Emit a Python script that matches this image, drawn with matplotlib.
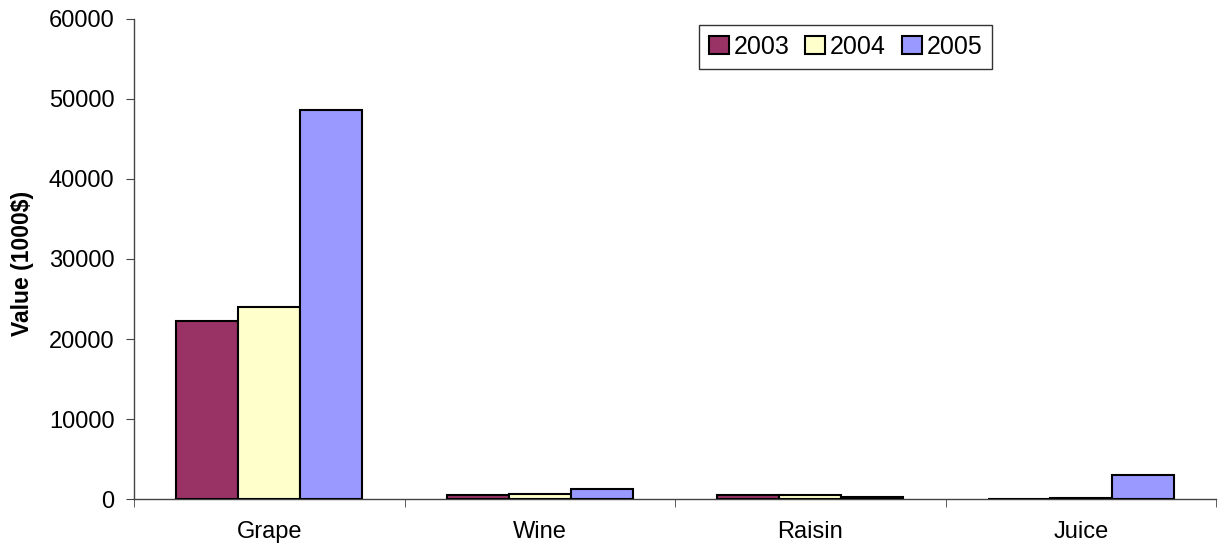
import matplotlib.pyplot as plt
import numpy as np

plt.rcParams['font.family'] = ['Liberation Sans', 'DejaVu Sans']

# Data (values in 1000$)
categories = ["Grape", "Wine", "Raisin", "Juice"]
years = ["2003", "2004", "2005"]
values_2003 = [22250, 500, 500, 0]
values_2004 = [24000, 650, 450, 100]
values_2005 = [48600, 1200, 250, 3000]
colors = ["#993366", "#FFFFCC", "#9999FF"]

fig = plt.figure(figsize=(12.25, 5.5), dpi=100)
ax = fig.add_axes([0.1094, 0.0927, 0.8833, 0.8728])

x = np.arange(len(categories))
width = 0.229
series = [values_2003, values_2004, values_2005]
for j, (vals, year, col) in enumerate(zip(series, years, colors)):
    ax.bar(x + (j - 1) * width, vals, width, color=col, edgecolor="black",
           linewidth=1.5, label=year, zorder=3)

ax.set_xlim(-0.5, len(categories) - 0.5)
ax.set_ylim(0, 60000)
ax.set_yticks(np.arange(0, 60001, 10000))
ax.set_xticks(x)
ax.set_xticklabels(categories)
ax.set_xticks(np.arange(-0.5, len(categories), 1), minor=True)
ax.tick_params(axis="x", which="major", length=0, labelsize=17, pad=16)
ax.tick_params(axis="x", which="minor", length=5.5, direction="out", color="#444444")
ax.tick_params(axis="y", length=5.5, direction="out", labelsize=17, pad=8.5,
               color="#444444")

for side in ["top", "right"]:
    ax.spines[side].set_visible(False)
for side in ["left", "bottom"]:
    ax.spines[side].set_color("#444444")
    ax.spines[side].set_linewidth(1)

ax.set_ylabel("Value (1000$)", fontsize=16.5, fontweight="bold", va="center")
ax.yaxis.set_label_coords(-0.103, 0.49)

leg = ax.legend(ncol=3, loc="upper left", bbox_to_anchor=(0.522, 0.9875),
                fontsize=18, frameon=True, fancybox=False, edgecolor="black",
                handlelength=0.8, handleheight=0.75, handletextpad=0.18,
                columnspacing=0.65, borderpad=0.4, borderaxespad=0)
leg.get_frame().set_linewidth(1)

fig.savefig("out.png", dpi=100)
